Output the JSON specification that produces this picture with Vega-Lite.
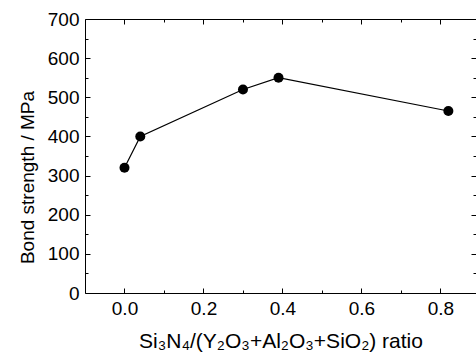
{
  "$schema": "https://vega.github.io/schema/vega-lite/v6.json",
  "width": 391,
  "height": 274,
  "autosize": {"type": "none"},
  "padding": {"left": 85, "top": 19, "right": 0, "bottom": 64},
  "background": "white",
  "config": {
    "view": {"stroke": null},
    "axis": {
      "grid": false,
      "domainColor": "black",
      "domainWidth": 1,
      "tickColor": "black",
      "tickWidth": 1,
      "labelColor": "black",
      "labelFont": "Liberation Sans",
      "labelFontSize": 19,
      "titleColor": "black",
      "titleFont": "Liberation Sans",
      "titleFontSize": 20,
      "titleFontWeight": "normal",
      "labelOverlap": false,
      "labelFlush": false
    }
  },
  "data": {
    "values": [
      {"ratio": 0.0, "strength": 320},
      {"ratio": 0.04, "strength": 400},
      {"ratio": 0.30, "strength": 520},
      {"ratio": 0.39, "strength": 550},
      {"ratio": 0.82, "strength": 465}
    ]
  },
  "layer": [
    {
      "mark": {"type": "line", "color": "black", "strokeWidth": 1.2},
      "encoding": {
        "x": {
          "field": "ratio", "type": "quantitative",
          "scale": {"domain": [-0.1, 0.89], "nice": false, "zero": false},
          "axis": {
            "orient": "bottom",
            "title": "Si₃N₄/(Y₂O₃+Al₂O₃+SiO₂) ratio",
            "titleFontSize": 21,
            "values": [0, 0.2, 0.4, 0.6, 0.8],
            "format": ".1f",
            "tickSize": -5,
            "labelPadding": 11,
            "titleY": 54,
            "titleBaseline": "alphabetic"
          }
        },
        "y": {
          "field": "strength", "type": "quantitative",
          "scale": {"domain": [0, 700], "nice": false},
          "axis": {
            "orient": "left",
            "title": "Bond strength / MPa",
            "titleFontSize": 19,
            "values": [0, 100, 200, 300, 400, 500, 600, 700],
            "format": "d",
            "tickSize": -5,
            "labelPadding": 11,
            "titleX": -52,
            "titleY": 158,
            "titleBaseline": "alphabetic"
          }
        }
      }
    },
    {
      "mark": {"type": "point", "filled": true, "color": "black", "opacity": 1, "size": 100},
      "encoding": {
        "x": {
          "field": "ratio", "type": "quantitative",
          "axis": {
            "orient": "top",
            "title": null,
            "labels": false,
            "values": [0, 0.2, 0.4, 0.6, 0.8],
            "tickSize": -5
          }
        },
        "y": {
          "field": "strength", "type": "quantitative",
          "axis": {
            "orient": "right",
            "title": null,
            "labels": false,
            "domain": false,
            "values": [0, 100, 200, 300, 400, 500, 600, 700],
            "tickSize": -5
          }
        }
      }
    },
    {
      "mark": {"type": "point", "opacity": 0},
      "encoding": {
        "x": {
          "field": "ratio", "type": "quantitative",
          "axis": {
            "orient": "bottom",
            "title": null,
            "labels": false,
            "domain": false,
            "values": [0.1, 0.3, 0.5, 0.7],
            "tickSize": -3
          }
        },
        "y": {
          "field": "strength", "type": "quantitative",
          "axis": {
            "orient": "left",
            "title": null,
            "labels": false,
            "domain": false,
            "values": [50, 150, 250, 350, 450, 550, 650],
            "tickSize": -3
          }
        }
      }
    },
    {
      "mark": {"type": "point", "opacity": 0},
      "encoding": {
        "x": {
          "field": "ratio", "type": "quantitative",
          "axis": {
            "orient": "top",
            "title": null,
            "labels": false,
            "domain": false,
            "values": [0.1, 0.3, 0.5, 0.7],
            "tickSize": -3
          }
        },
        "y": {
          "field": "strength", "type": "quantitative",
          "axis": {
            "orient": "right",
            "title": null,
            "labels": false,
            "domain": false,
            "values": [50, 150, 250, 350, 450, 550, 650],
            "tickSize": -3
          }
        }
      }
    }
  ],
  "resolve": {"axis": {"x": "independent", "y": "independent"}}
}
